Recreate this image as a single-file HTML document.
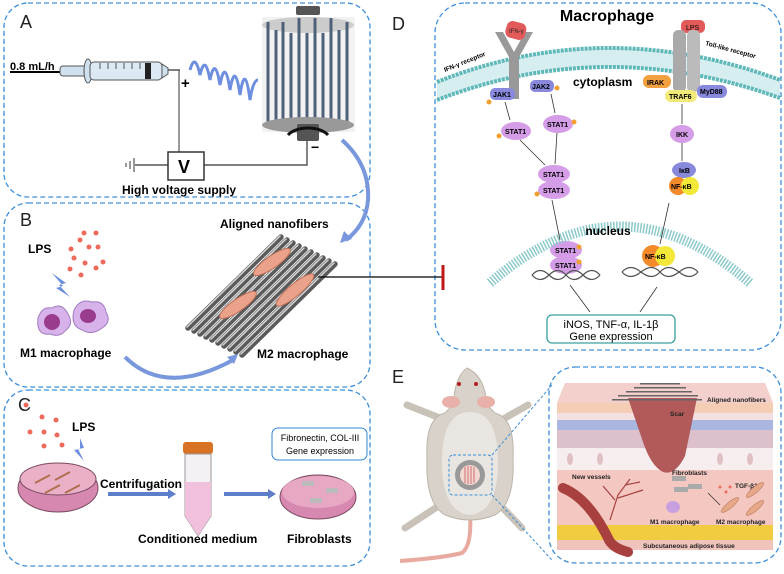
<!DOCTYPE html>
<html><head><meta charset="utf-8"><style>
body{margin:0;background:#fff;width:784px;height:569px;overflow:hidden;font-family:"Liberation Sans",sans-serif}
svg text{font-family:"Liberation Sans",sans-serif}
</style></head><body>
<svg width="784" height="569" viewBox="0 0 784 569" xmlns="http://www.w3.org/2000/svg">
<g fill="none" stroke="#3c8fd8" stroke-width="1.3" stroke-dasharray="5,3">
<rect x="4" y="3" width="366" height="194" rx="24"/>
<rect x="4" y="203" width="366" height="184" rx="24"/>
<rect x="4" y="390" width="366" height="176" rx="24"/>
<rect x="435" y="3" width="346" height="347" rx="30"/>
<rect x="549" y="367" width="232" height="196" rx="26"/>
</g>
<g font-size="18" fill="#222"><text x="20" y="28">A</text><text x="20" y="226">B</text><text x="18" y="411">C</text><text x="392" y="30">D</text><text x="392" y="383">E</text></g>
<!-- Panel A -->
<text x="10" y="70" font-size="11" font-weight="bold">0.8 mL/h</text>
<line x1="10" y1="72" x2="62" y2="72" stroke="#000" stroke-width="2"/>
<rect x="60" y="66" width="28" height="10" rx="3" fill="#cfe0ef" stroke="#555"/>
<ellipse cx="88" cy="71" rx="4" ry="12" fill="#cfe0ef" stroke="#555"/>
<rect x="90" y="62" width="72" height="18" rx="4" fill="#dce9f5" stroke="#555"/>
<g stroke="#555"><line x1="100" y1="63" x2="100" y2="69"/><line x1="108" y1="63" x2="108" y2="69"/><line x1="116" y1="63" x2="116" y2="69"/><line x1="124" y1="63" x2="124" y2="69"/><line x1="132" y1="63" x2="132" y2="69"/><line x1="140" y1="63" x2="140" y2="69"/></g>
<rect x="145" y="63" width="6" height="16" fill="#222"/>
<path d="M162 64 l6 4 v6 l-6 4z" fill="#cfe0ef" stroke="#555"/>
<line x1="168" y1="70" x2="180" y2="70" stroke="#555" stroke-width="1.5"/>
<path d="M190 70 q5 -18 10 5 q5 -22 10 5 q5 -25 10 5 q5 -28 10 5 q5 -30 10 5 q5 -34 10 5 q3 -20 8 -20" fill="none" stroke="#6e8fe0" stroke-width="3"/>
<text x="181" y="88" font-size="15" font-weight="bold">+</text>
<line x1="179" y1="70" x2="179" y2="152" stroke="#555" stroke-width="1.2"/>
<rect x="262" y="17" width="93" height="115" fill="#f2f2f2"/>
<ellipse cx="308" cy="25" rx="46" ry="8" fill="#ccc"/>
<g stroke="#4e6178" stroke-width="3">
<line x1="268" y1="22" x2="268" y2="128"/><line x1="276" y1="30" x2="276" y2="122"/><line x1="283" y1="22" x2="283" y2="128"/><line x1="291" y1="33" x2="291" y2="120"/><line x1="299" y1="18" x2="299" y2="130"/><line x1="307" y1="33" x2="307" y2="120"/><line x1="315" y1="18" x2="315" y2="130"/><line x1="323" y1="33" x2="323" y2="120"/><line x1="331" y1="18" x2="331" y2="128"/><line x1="339" y1="30" x2="339" y2="122"/><line x1="347" y1="22" x2="347" y2="128"/>
</g>
<ellipse cx="308" cy="125" rx="46" ry="8" fill="#999"/>
<rect x="296" y="6" width="24" height="9" rx="2" fill="#555"/>
<rect x="297" y="124" width="22" height="17" rx="2" fill="#555"/>
<path d="M288 135 a22 12 0 0 1 40 0" fill="none" stroke="#111" stroke-width="3"/>
<text x="311" y="152" font-size="14" font-weight="bold">−</text>
<rect x="168" y="152" width="36" height="28" fill="#fff" stroke="#333" stroke-width="1.5"/>
<text x="178" y="173" font-size="18" font-weight="bold">V</text>
<polyline points="204,165 307,165 307,141" fill="none" stroke="#333" stroke-width="1.2"/>
<line x1="135" y1="165" x2="168" y2="165" stroke="#333" stroke-width="1.2"/>
<line x1="134" y1="158" x2="134" y2="172" stroke="#333"/><line x1="130" y1="161" x2="130" y2="169" stroke="#333"/><line x1="126" y1="163" x2="126" y2="167" stroke="#333"/>
<text x="122" y="194" font-size="12" font-weight="bold">High voltage supply</text>
<path d="M342 140 q28 25 26 60 q-2 25 -22 40" fill="none" stroke="#7897dc" stroke-width="4"/>
<path d="M340 243 l4 -12 l8 8z" fill="#7897dc"/>
<!-- Panel B -->
<text x="220" y="228" font-size="12" font-weight="bold">Aligned nanofibers</text>
<text x="28" y="253" font-size="12" font-weight="bold">LPS</text>
<g fill="#ee6a5a"><circle cx="84" cy="233" r="2.5"/><circle cx="96" cy="233" r="2.5"/><circle cx="80" cy="240" r="2.5"/><circle cx="71" cy="249" r="2.5"/><circle cx="89" cy="247" r="2.5"/><circle cx="98" cy="247" r="2.5"/><circle cx="74" cy="258" r="2.5"/><circle cx="85" cy="263" r="2.5"/><circle cx="103" cy="262" r="2.5"/><circle cx="96" cy="268" r="2.5"/><circle cx="70" cy="269" r="2.5"/><circle cx="81" cy="275" r="2.5"/></g>
<path d="M52 273 l14 10 -7 2 11 12 -14 -9 7 -2z" fill="#6e8fe0"/>
<path d="M38 318 q4 -12 14 -10 q10 -6 16 6 q6 10 -2 16 q-6 8 -16 4 q-14 2 -12 -16z" fill="#d8b2ea" stroke="#a07cc0"/>
<path d="M74 310 q6 -12 18 -8 q12 -2 14 10 q6 10 -4 16 q-10 8 -20 2 q-12 -4 -8 -20z" fill="#d8b2ea" stroke="#a07cc0"/>
<ellipse cx="52" cy="322" rx="8" ry="8" fill="#9a3c8e"/><ellipse cx="88" cy="316" rx="8" ry="7" fill="#9a3c8e"/>
<text x="20" y="357" font-size="12" font-weight="bold">M1 macrophage</text>
<g stroke-width="5.5" stroke-linecap="round" stroke="#5a5a5a">
<line x1="188" y1="328" x2="281" y2="237"/><line x1="194" y1="331" x2="287" y2="240"/><line x1="200" y1="334" x2="293" y2="243"/><line x1="206" y1="337" x2="299" y2="246"/><line x1="212" y1="340" x2="305" y2="249"/><line x1="218" y1="343" x2="311" y2="252"/><line x1="224" y1="346" x2="317" y2="255"/><line x1="230" y1="349" x2="323" y2="258"/><line x1="236" y1="352" x2="329" y2="261"/><line x1="242" y1="355" x2="335" y2="264"/>
</g>
<g stroke-width="1.5" stroke-linecap="round" stroke="#d8d8d8">
<line x1="187" y1="327" x2="280" y2="236"/><line x1="193" y1="330" x2="286" y2="239"/><line x1="199" y1="333" x2="292" y2="242"/><line x1="205" y1="336" x2="298" y2="245"/><line x1="211" y1="339" x2="304" y2="248"/><line x1="217" y1="342" x2="310" y2="251"/><line x1="223" y1="345" x2="316" y2="254"/><line x1="229" y1="348" x2="322" y2="257"/><line x1="235" y1="351" x2="328" y2="260"/><line x1="241" y1="354" x2="334" y2="263"/>
</g>
<g fill="#eaa28a" stroke="#c07058"><ellipse cx="272" cy="262" rx="22" ry="6" transform="rotate(-35 272 262)"/><ellipse cx="238" cy="305" rx="22" ry="6" transform="rotate(-35 238 305)"/><ellipse cx="295" cy="290" rx="24" ry="6" transform="rotate(-40 295 290)"/></g>
<text x="257" y="358" font-size="12" font-weight="bold">M2 macrophage</text>
<path d="M125 357 q40 40 108 3" fill="none" stroke="#7897dc" stroke-width="4"/>
<path d="M238 354 l-4 10 l-7 -7z" fill="#7897dc"/>
<line x1="318" y1="277" x2="443" y2="277" stroke="#000" stroke-width="1.2"/>
<line x1="443" y1="265" x2="443" y2="290" stroke="#c01818" stroke-width="3"/>
<!-- Panel C -->
<text x="72" y="431" font-size="12" font-weight="bold">LPS</text>
<g fill="#ee6a5a"><circle cx="26" cy="405" r="2.5"/><circle cx="42" cy="417" r="2.5"/><circle cx="56" cy="420" r="2.5"/><circle cx="30" cy="432" r="2.5"/><circle cx="44" cy="432" r="2.5"/><circle cx="57" cy="435" r="2.5"/><circle cx="44" cy="446" r="2.5"/><circle cx="62" cy="445" r="2.5"/></g>
<path d="M80 438 l4 10 -6 1 6 12 -10 -11 6 -1z" fill="#6e8fe0"/>
<ellipse cx="58" cy="488" rx="40" ry="24" fill="#d788b0" stroke="#7a4a60"/>
<ellipse cx="58" cy="479" rx="38" ry="16" fill="#eab0c8" stroke="#7a4a60"/>
<g stroke="#b07050" stroke-width="2"><line x1="35" y1="483" x2="50" y2="475"/><line x1="55" y1="480" x2="70" y2="472"/><line x1="45" y1="493" x2="60" y2="485"/><line x1="65" y1="493" x2="80" y2="485"/></g>
<text x="100" y="488" font-size="12" font-weight="bold">Centrifugation</text>
<line x1="108" y1="494" x2="170" y2="494" stroke="#5d7ec8" stroke-width="4"/><path d="M168 489 l8 5 -8 5z" fill="#5d7ec8"/>
<rect x="183" y="442" width="30" height="12" rx="3" fill="#d87326"/>
<path d="M185 454 h26 v62 l-13 20 l-13 -20z" fill="#f5f0f3" stroke="#999"/>
<path d="M185 482 h26 v34 l-13 20 l-13 -20z" fill="#f0c0dc"/>
<text x="138" y="543" font-size="12" font-weight="bold">Conditioned medium</text>
<line x1="224" y1="494" x2="270" y2="494" stroke="#5d7ec8" stroke-width="4"/><path d="M268 489 l8 5 -8 5z" fill="#5d7ec8"/>
<rect x="272" y="428" width="95" height="32" rx="6" fill="#fff" stroke="#2f86d6"/>
<text x="320" y="441" font-size="9" text-anchor="middle">Fibronectin, COL-III</text>
<text x="320" y="454" font-size="9" text-anchor="middle">Gene expression</text>
<ellipse cx="318" cy="497" rx="38" ry="22" fill="#d788b0" stroke="#7a4a60"/>
<ellipse cx="318" cy="492" rx="36" ry="16" fill="#e8a8c4"/>
<g fill="#bbb"><rect x="302" y="481" width="12" height="5"/><rect x="326" y="488" width="12" height="5"/><rect x="310" y="498" width="12" height="5"/></g>
<text x="287" y="543" font-size="12" font-weight="bold">Fibroblasts</text>
<!-- Panel D -->
<text x="607" y="21" font-size="16" font-weight="bold" text-anchor="middle">Macrophage</text>
<path d="M437 82 Q605 15 780 80 L780 98 Q605 35 437 100z" fill="#d6eef0"/>
<path d="M437 82 Q605 15 780 80" stroke="#5fb8b8" stroke-width="4" fill="none" stroke-dasharray="3,1"/>
<path d="M437 100 Q605 35 780 98" stroke="#5fb8b8" stroke-width="4" fill="none" stroke-dasharray="3,1"/>
<text x="445" y="72" font-size="6.5" font-weight="bold" transform="rotate(-22 445 72)">IFN-γ receptor</text>
<text x="705" y="45" font-size="6.5" font-weight="bold" transform="rotate(15 705 45)">Toll-like receptor</text>
<path d="M495 32 l14 25 v42 h10 v-42 l14 -25 h-8 l-11 20 l-11 -20z" fill="#999"/>
<rect x="506" y="22" width="20" height="17" rx="6" fill="#e35a5a" transform="rotate(15 516 30)"/><text x="509" y="33" font-size="6" fill="#222">IFN-γ</text>
<rect x="681" y="20" width="24" height="13" rx="5" fill="#e35a5a"/><text x="686" y="30" font-size="7">LPS</text>
<rect x="673" y="30" width="13" height="62" rx="5" fill="#aaa"/><rect x="687" y="30" width="13" height="62" rx="5" fill="#bbb"/>
<text x="573" y="86" font-size="12" font-weight="bold">cytoplasm</text>
<g font-size="7" font-weight="bold">
<rect x="490" y="88" width="25" height="12" rx="5" fill="#8888dc"/><text x="493" y="97">JAK1</text>
<rect x="530" y="80" width="24" height="12" rx="5" fill="#8888dc"/><text x="532" y="89">JAK2</text>
<rect x="643" y="75" width="28" height="13" rx="6" fill="#f2a040"/><text x="647" y="85">IRAK</text>
<rect x="665" y="90" width="32" height="12" rx="6" fill="#f2ea78"/><text x="669" y="99">TRAF6</text>
<rect x="697" y="85" width="30" height="13" rx="6" fill="#8888dc"/><text x="700" y="94">MyD88</text>
<ellipse cx="516" cy="131" rx="15" ry="9" fill="#d59de8"/><text x="505" y="134">STAT1</text>
<ellipse cx="558" cy="124" rx="15" ry="9" fill="#d59de8"/><text x="547" y="127">STAT1</text>
<ellipse cx="554" cy="174" rx="16" ry="9" fill="#d59de8"/><text x="543" y="177">STAT1</text>
<ellipse cx="554" cy="190" rx="16" ry="9" fill="#d59de8"/><text x="543" y="193">STAT1</text>
<ellipse cx="682" cy="134" rx="12" ry="9" fill="#d59de8"/><text x="676" y="137">IKK</text>
<ellipse cx="684" cy="170" rx="12" ry="8" fill="#8888dc"/><text x="679" y="173">IκB</text>
<circle cx="678" cy="186" r="9" fill="#f58a2a"/><circle cx="690" cy="186" r="9" fill="#f3e838"/><text x="671" y="189">NF-κB</text>
<ellipse cx="566" cy="250" rx="16" ry="9" fill="#d59de8"/><text x="555" y="253">STAT1</text>
<ellipse cx="566" cy="265" rx="16" ry="9" fill="#d59de8"/><text x="555" y="268">STAT1</text>
<circle cx="653" cy="256" r="11" fill="#f58a2a"/><circle cx="665" cy="256" r="10" fill="#f3e838"/><text x="645" y="259">NF-κB</text>
</g>
<g fill="#f0a030"><circle cx="489" cy="102" r="2.5"/><circle cx="557" cy="88" r="2.5"/><circle cx="499" cy="136" r="2.5"/><circle cx="574" cy="122" r="2.5"/><circle cx="537" cy="194" r="2.5"/><circle cx="579" cy="247" r="2.5"/><circle cx="579" cy="262" r="2.5"/></g>
<g stroke="#333" stroke-width=".8"><line x1="505" y1="102" x2="510" y2="120"/><line x1="551" y1="94" x2="555" y2="113"/><line x1="520" y1="140" x2="545" y2="165"/><line x1="557" y1="133" x2="555" y2="164"/><line x1="682" y1="104" x2="682" y2="124"/><line x1="682" y1="143" x2="682" y2="161"/><line x1="552" y1="200" x2="560" y2="240"/><line x1="669" y1="203" x2="660" y2="244"/><line x1="570" y1="285" x2="590" y2="312"/><line x1="657" y1="287" x2="640" y2="312"/></g>
<path d="M490 283 Q 620 170 750 283" fill="none" stroke="#8cc9ca" stroke-width="10" stroke-dasharray="1.5,1.5"/>
<text x="608" y="235" font-size="12" font-weight="bold" text-anchor="middle">nucleus</text>
<path d="M532 275 q8 -9 17 0 t17 0 t17 0 t17 0 M532 275 q8 9 17 0 t17 0 t17 0 t17 0" fill="none" stroke="#555" stroke-width="1.3"/>
<path d="M622 272 q8 -9 19 0 t19 0 t19 0 t19 0 M622 272 q8 9 19 0 t19 0 t19 0 t19 0" fill="none" stroke="#555" stroke-width="1.3"/>
<rect x="547" y="315" width="128" height="28" rx="5" fill="#fff" stroke="#3aa0a0" stroke-width="1.3"/>
<text x="611" y="328" font-size="11" text-anchor="middle">iNOS, TNF-α,  IL-1β</text>
<text x="611" y="340" font-size="11" text-anchor="middle">Gene expression</text>
<!-- Panel E mouse -->
<g stroke="#c9c2b8" stroke-width="7" fill="none" stroke-linecap="round">
<path d="M440 418 L407 405 M505 418 L528 405 M440 505 L405 528 M500 505 L522 528"/>
</g>
<path d="M470 515 q2 30 -8 38 q-20 5 -62 8" stroke="#e8aaa0" stroke-width="4" fill="none"/>
<path d="M467 368 q18 8 20 37 l8 8 q20 5 18 45 q2 45 -18 57 q-25 10 -50 0 q-20 -12 -18 -57 q-2 -40 18 -45 l8 -8 q2 -29 14 -37z" fill="#d8d2ca" stroke="#bdb5aa"/>
<path d="M470 412 q28 0 28 50 q0 50 -28 53 q-28 -3 -28 -53 q0 -50 28 -50z" fill="#e9e6e1"/>
<ellipse cx="451" cy="402" rx="9" ry="6" fill="#e8b0a8"/><ellipse cx="486" cy="402" rx="9" ry="6" fill="#e8b0a8"/>
<circle cx="459" cy="384" r="2" fill="#b02020"/><circle cx="476" cy="384" r="2" fill="#b02020"/>
<circle cx="470" cy="475" r="15" fill="#999"/><circle cx="470" cy="475" r="10" fill="#f2d8d0"/>
<g stroke="#d07070" stroke-width="1"><line x1="465" y1="467" x2="465" y2="483"/><line x1="468" y1="466" x2="468" y2="484"/><line x1="471" y1="466" x2="471" y2="484"/><line x1="474" y1="467" x2="474" y2="483"/></g>
<rect x="449" y="455" width="43" height="40" rx="4" fill="none" stroke="#3c8fd8" stroke-dasharray="3,2"/>
<line x1="492" y1="455" x2="552" y2="385" stroke="#3c8fd8" stroke-dasharray="3,2"/>
<line x1="492" y1="495" x2="552" y2="560" stroke="#3c8fd8" stroke-dasharray="3,2"/>
<!-- skin -->
<path d="M557 403 l8 -20 h200 l8 20 v147 h-216z" fill="#f2c6be"/>
<path d="M557 403 l8 -20 h200 l8 20z" fill="#f4d0cc"/>
<rect x="557" y="403" width="216" height="10" fill="#f4cdb4"/>
<rect x="557" y="413" width="216" height="7" fill="#f3e0e0"/>
<rect x="557" y="420" width="216" height="10" fill="#a8b6e0"/>
<rect x="557" y="430" width="216" height="18" fill="#dcc0cc"/>
<rect x="557" y="448" width="216" height="22" fill="#f6eeee"/>
<g fill="#e0c0c4"><ellipse cx="570" cy="459" rx="3" ry="6"/><ellipse cx="600" cy="459" rx="3" ry="6"/><ellipse cx="720" cy="459" rx="3" ry="6"/><ellipse cx="750" cy="459" rx="3" ry="6"/></g>
<rect x="557" y="470" width="216" height="55" fill="#f4c8c0"/>
<rect x="557" y="525" width="216" height="15" fill="#f2cc40"/>
<rect x="557" y="540" width="216" height="10" fill="#f0c4bc"/>
<path d="M628 398 h69 l-12 58 q-10 20 -22 16 q-12 -6 -20 -30z" fill="#b25a5a"/>
<g fill="#666"><rect x="640" y="383" width="40" height="1.5"/><rect x="634" y="387" width="52" height="1.5"/><rect x="626" y="391" width="66" height="1.5"/><rect x="618" y="395" width="80" height="1.5"/><rect x="612" y="399" width="90" height="1.5"/></g>
<g font-size="6.5" fill="#222" font-weight="bold"><text x="707" y="402">Aligned nanofibers</text><text x="670" y="416">Scar</text><text x="672" y="475">Fibroblasts</text><text x="572" y="479">New vessels</text><text x="735" y="488">TGF-β1</text><text x="650" y="524">M1 macrophage</text><text x="716" y="524">M2 macrophage</text><text x="643" y="548">Subcutaneous adipose tissue</text></g>
<path d="M563 488 q25 10 45 50 q4 10 20 14" stroke="#a84040" stroke-width="10" fill="none" stroke-linecap="round"/>
<path d="M610 520 l8 -25 l12 -16 M615 500 l-12 -14 M625 485 l15 -3 M618 498 l25 -8" stroke="#a84040" stroke-width="1.2" fill="none"/>
<ellipse cx="673" cy="507" rx="7" ry="6" fill="#c8a0e0"/>
<g fill="#aaa"><rect x="672" y="476" width="14" height="5"/><rect x="688" y="484" width="14" height="5"/><rect x="674" y="487" width="14" height="5"/></g>
<g fill="#ee6a5a"><circle cx="720" cy="487" r="1.5"/><circle cx="726" cy="492" r="1.5"/><circle cx="730" cy="487" r="1.5"/></g>
<line x1="720" y1="505" x2="708" y2="493" stroke="#333" stroke-width=".8"/>
<g fill="#e6a888" stroke="#b07050" stroke-width=".5"><ellipse cx="755" cy="490" rx="11" ry="3" transform="rotate(-40 755 490)"/><ellipse cx="730" cy="505" rx="11" ry="3" transform="rotate(-40 730 505)"/><ellipse cx="755" cy="508" rx="11" ry="3" transform="rotate(-40 755 508)"/></g>
</svg>
</body></html>
